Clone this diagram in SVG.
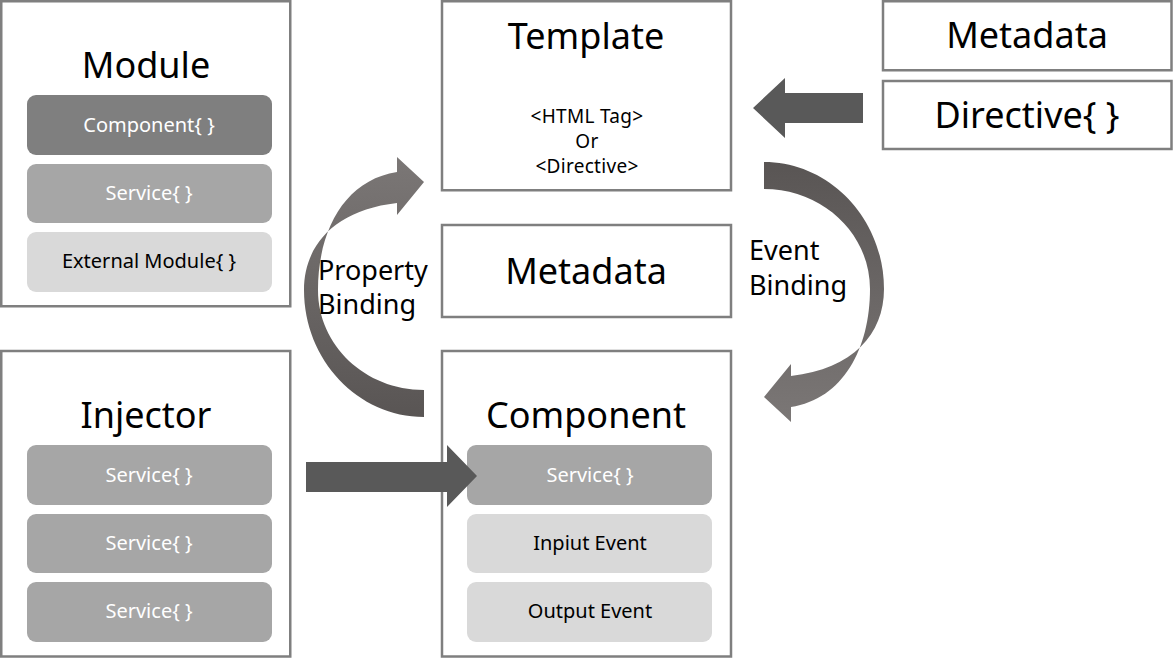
<svg xmlns="http://www.w3.org/2000/svg" width="1173" height="658" viewBox="0 0 1173 658">
<defs>
<style>
.box{fill:#fff;stroke:#7f7f7f;stroke-width:2.5}
.t{font-family:"Noto Sans","Open Sans","DejaVu Sans",sans-serif;text-anchor:middle}
.big{font-size:36px;fill:#000}
.mid{font-size:20px}
.sm{font-size:19px;fill:#000;letter-spacing:0.3px}
.lbl{font-family:"Noto Sans","Open Sans","DejaVu Sans",sans-serif;font-size:27px;fill:#000}
.dk{fill:#7f7f7f}
.md{fill:#a6a6a6}
.lt{fill:#d9d9d9}
.w{fill:#fff}
.b{fill:#000}
.arr{fill:#595959}
</style>
<linearGradient id="g" x1="0" y1="0" x2="0" y2="1">
<stop offset="0" stop-color="#7b7776"/>
<stop offset="1" stop-color="#595554"/>
</linearGradient>
<path id="curve" d="M424,417 C358,417 304,360 304,290 C304,245 335,210 397,203 L397,215 L424,182 L397,157 L397,172 C345,180 318,230 318,290 C318,345 365,390 424,390 Z"/>
</defs>

<g id="module">
<rect class="box" x="1.25" y="1.25" width="289" height="305"/>
<text class="t big" x="146" y="78">Module</text>
<rect class="dk" x="27" y="95" width="245" height="60" rx="9"/>
<text class="t mid w" x="149" y="132">Component{ }</text>
<rect class="md" x="27" y="164" width="245" height="59" rx="9"/>
<text class="t mid w" x="149" y="200">Service{ }</text>
<rect class="lt" x="27" y="232" width="245" height="60" rx="9"/>
<text class="t mid b" x="149" y="268">External Module{ }</text>
</g>

<g id="injector">
<rect class="box" x="1.25" y="351" width="289" height="305.5"/>
<text class="t big" x="146" y="428">Injector</text>
<rect class="md" x="27" y="445" width="245" height="60" rx="9"/>
<text class="t mid w" x="149" y="482">Service{ }</text>
<rect class="md" x="27" y="514" width="245" height="59" rx="9"/>
<text class="t mid w" x="149" y="550">Service{ }</text>
<rect class="md" x="27" y="582" width="245" height="60" rx="9"/>
<text class="t mid w" x="149" y="618">Service{ }</text>
</g>

<g id="template">
<rect class="box" x="442" y="1.25" width="289" height="189"/>
<text class="t big" x="586" y="49">Template</text>
<text class="t sm" x="587" y="123">&lt;HTML Tag&gt;</text>
<text class="t sm" x="587" y="148">Or</text>
<text class="t sm" x="587" y="173">&lt;Directive&gt;</text>
</g>

<g id="metadata-mid">
<rect class="box" x="442" y="225" width="289" height="92"/>
<text class="t big" x="586" y="284">Metadata</text>
</g>

<g id="component">
<rect class="box" x="442" y="351" width="289" height="305.5"/>
<text class="t big" x="586" y="428">Component</text>
<rect class="md" x="467" y="445" width="245" height="60" rx="9"/>
<text class="t mid w" x="590" y="482">Service{ }</text>
<rect class="lt" x="467" y="514" width="245" height="59" rx="9"/>
<text class="t mid b" x="590" y="550">Inpiut Event</text>
<rect class="lt" x="467" y="582" width="245" height="60" rx="9"/>
<text class="t mid b" x="590" y="618">Output Event</text>
</g>

<g id="metadata-top">
<rect class="box" x="883" y="1.25" width="288.5" height="69"/>
<text class="t big" x="1027" y="48">Metadata</text>
</g>

<g id="directive">
<rect class="box" x="883" y="81" width="288.5" height="68"/>
<text class="t big" x="1027" y="128">Directive{ }</text>
</g>

<g id="connectors">
<path class="arr" d="M863,93 L785,93 L785,78 L753,108 L785,138 L785,123 L863,123 Z"/>
<path class="arr" d="M306,462 L447,462 L447,445 L477,476 L447,507 L447,492 L306,492 Z"/>
<use href="#curve" fill="url(#g)"/>
<use href="#curve" fill="url(#g)" transform="rotate(180 594 289.5)"/>
<text class="lbl" x="318" y="280">Property</text>
<text class="lbl" x="318" y="314">Binding</text>
<text class="lbl" x="749" y="260">Event</text>
<text class="lbl" x="749" y="295">Binding</text>
</g>
</svg>
